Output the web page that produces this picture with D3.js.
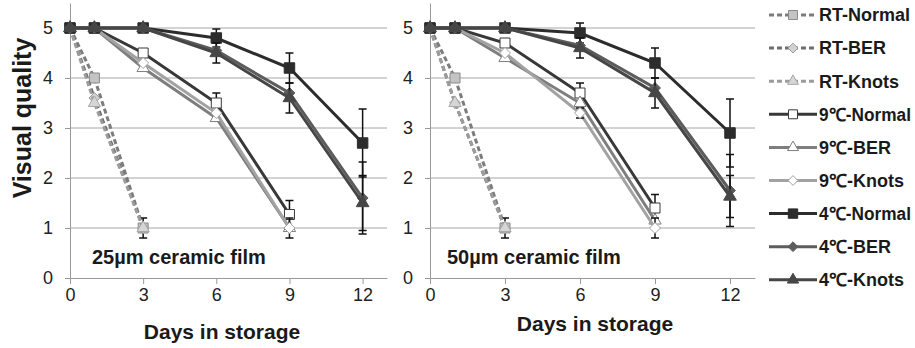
<!DOCTYPE html>
<html>
<head>
<meta charset="utf-8">
<script src="https://cdn.jsdelivr.net/npm/d3@7"></script>
<style>
  body { margin: 0; background: #fff; }
  svg { font-family: "Liberation Sans", Arial, sans-serif; }
  .tick text { fill: #222; }
</style>
</head>
<body>
<div id="chart"></div>
<script>
// Storage days (x values) and axis ticks
const days = [0, 1, 3, 6, 9, 12];
const xTicks = [0, 3, 6, 9, 12];
const yTicks = [0, 1, 2, 3, 4, 5];

const seriesNames = [
  "RT-Normal", "RT-BER", "RT-Knots",
  "9℃-Normal", "9℃-BER", "9℃-Knots",
  "4℃-Normal", "4℃-BER", "4℃-Knots",
];

// 25µm ceramic film: visual quality per series, one value per day (null = not measured)
const values25 = [
  [5, 4.0, 1, null, null, null],
  [5, 3.6, 1, null, null, null],
  [5, 3.5, 1, null, null, null],
  [5, 5, 4.5, 3.5, 1.27, null],
  [5, 5, 4.2, 3.2, 1.0, null],
  [5, 5, 4.3, 3.3, 1.0, null],
  [5, 5, 5, 4.8, 4.2, 2.7],
  [5, 5, 5, 4.55, 3.7, 1.6],
  [5, 5, 5, 4.5, 3.6, 1.5],
];
// standard errors (null = no bar drawn)
const errors25 = [
  [null, null, 0.2, null, null, null],
  [null, null, null, null, null, null],
  [null, null, null, null, null, null],
  [null, null, null, 0.2, 0.28, null],
  [null, null, null, null, null, null],
  [null, null, null, null, 0.2, null],
  [null, null, null, 0.18, 0.3, 0.68],
  [null, null, null, null, null, 0.72],
  [null, null, null, 0.2, 0.3, 0.55],
];

// 50µm ceramic film
const values50 = [
  [5, 4.0, 1, null, null, null],
  [5, 3.5, 1, null, null, null],
  [5, 3.5, 1, null, null, null],
  [5, 5, 4.7, 3.7, 1.4, null],
  [5, 5, 4.4, 3.5, 1.15, null],
  [5, 5, 4.5, 3.3, 1.0, null],
  [5, 5, 5, 4.9, 4.3, 2.9],
  [5, 5, 5, 4.65, 3.8, 1.75],
  [5, 5, 5, 4.6, 3.7, 1.63],
];
const errors50 = [
  [null, null, 0.2, null, null, null],
  [null, null, null, null, null, null],
  [null, null, null, null, null, null],
  [null, null, null, 0.2, 0.27, null],
  [null, null, null, null, null, null],
  [null, null, null, 0.1, 0.2, null],
  [null, null, null, 0.2, 0.3, 0.68],
  [null, null, null, null, null, 0.72],
  [null, null, null, 0.2, 0.3, 0.42],
];

// Diamond drawn as a square turned 45 degrees (d3's diamond is too tall)
const symbolRhomb = {
  draw(context, size) {
    const r = Math.sqrt(size / 2);
    context.moveTo(0, -r);
    context.lineTo(r, 0);
    context.lineTo(0, r);
    context.lineTo(-r, 0);
    context.closePath();
  }
};

// Look of each series (line colour, dash, marker)
const seriesStyle = [
  { color: "#7c7c7c", dash: "5,3", symbol: d3.symbolSquare, size: 100, fill: "#c4c4c4", stroke: "#8a8a8a" },
  { color: "#6e6e6e", dash: "5,3", symbol: symbolRhomb, size: 60, fill: "#d2d2d2", stroke: "#9a9a9a" },
  { color: "#9c9c9c", dash: "5,3", symbol: d3.symbolTriangle, size: 65, fill: "#d6d6d6", stroke: "#a8a8a8" },
  { color: "#383838", dash: null, symbol: d3.symbolSquare, size: 100, fill: "#fff", stroke: "#383838" },
  { color: "#7e7e7e", dash: null, symbol: d3.symbolTriangle, size: 65, fill: "#fff", stroke: "#7e7e7e" },
  { color: "#a2a2a2", dash: null, symbol: symbolRhomb, size: 60, fill: "#fff", stroke: "#a2a2a2" },
  { color: "#2c2c2c", dash: null, symbol: d3.symbolSquare, size: 110, fill: "#2c2c2c", stroke: "#2c2c2c" },
  { color: "#5c5c5c", dash: null, symbol: symbolRhomb, size: 60, fill: "#5c5c5c", stroke: "#5c5c5c" },
  { color: "#464646", dash: null, symbol: d3.symbolTriangle, size: 70, fill: "#464646", stroke: "#464646" },
];

const width = 915, height = 348;
const svg = d3.select("#chart").append("svg")
  .attr("width", width)
  .attr("height", height);

const y = d3.scaleLinear().domain([0, 5.5]).range([278, 3]);

const panels = [
  { values: values25, errors: errors25, x0: 70, x1: 387, label: "25µm ceramic film", labelX: 92, titleX: 222, titleY: 339 },
  { values: values50, errors: errors50, x0: 430, x1: 755, label: "50µm ceramic film", labelX: 447, titleX: 595, titleY: 331 },
];

panels.forEach(function (p) {
  const x = d3.scaleLinear().domain([0, 13]).range([p.x0, p.x1]);
  const g = svg.append("g");

  // Grid lines
  g.selectAll("line.grid")
    .data(yTicks.filter(d => d > 0))
    .enter().append("line")
    .attr("class", "grid")
    .attr("x1", p.x0).attr("x2", p.x1)
    .attr("y1", d => y(d)).attr("y2", d => y(d))
    .attr("stroke", "#a6a6a6").attr("stroke-width", 1);

  // Y axis
  const yAxis = g.append("g")
    .attr("transform", "translate(" + p.x0 + ",0)")
    .call(d3.axisLeft(y).tickValues(yTicks).tickFormat(d3.format("d"))
      .tickSize(5).tickPadding(12).tickSizeOuter(0));
  yAxis.selectAll("text").style("font-size", "18px");

  // X axis
  const xAxis = g.append("g")
    .attr("transform", "translate(0," + y(0) + ")")
    .call(d3.axisBottom(x).tickValues(xTicks).tickSize(6).tickPadding(4).tickSizeOuter(0));
  xAxis.selectAll("text").style("font-size", "18px");

  [yAxis, xAxis].forEach(function (a) {
    a.select(".domain").attr("stroke", "#999");
    a.selectAll(".tick line").attr("stroke", "#999");
  });

  // X axis title
  g.append("text")
    .attr("x", p.titleX).attr("y", p.titleY)
    .attr("text-anchor", "middle")
    .style("font-size", "21px").style("font-weight", "bold")
    .attr("fill", "#1a1a1a")
    .text("Days in storage");

  // Film label
  g.append("text")
    .attr("x", p.labelX).attr("y", 264)
    .style("font-size", "20px").style("font-weight", "bold")
    .attr("fill", "#1a1a1a")
    .text(p.label);

  // Series lines and markers
  p.values.forEach(function (vals, i) {
    const st = seriesStyle[i];
    const pts = days.map((d, j) => ({ day: d, v: vals[j], e: p.errors[i][j] }))
      .filter(d => d.v !== null);

    g.append("path")
      .datum(pts)
      .attr("fill", "none")
      .attr("stroke", st.color)
      .attr("stroke-width", 3)
      .attr("stroke-dasharray", st.dash)
      .attr("d", d3.line().x(d => x(d.day)).y(d => y(d.v)));

    // Error bars
    const eb = g.selectAll(null)
      .data(pts.filter(d => d.e !== null))
      .enter().append("g")
      .attr("stroke", "#111").attr("stroke-width", 1.5);
    eb.append("line")
      .attr("x1", d => x(d.day)).attr("x2", d => x(d.day))
      .attr("y1", d => y(d.v + d.e)).attr("y2", d => y(d.v - d.e));
    eb.append("line")
      .attr("x1", d => x(d.day) - 4).attr("x2", d => x(d.day) + 4)
      .attr("y1", d => y(d.v + d.e)).attr("y2", d => y(d.v + d.e));
    eb.append("line")
      .attr("x1", d => x(d.day) - 4).attr("x2", d => x(d.day) + 4)
      .attr("y1", d => y(d.v - d.e)).attr("y2", d => y(d.v - d.e));

    g.selectAll(null)
      .data(pts)
      .enter().append("path")
      .attr("transform", d => "translate(" + x(d.day) + "," + y(d.v) + ")")
      .attr("d", d3.symbol().type(st.symbol).size(st.size))
      .attr("fill", st.fill)
      .attr("stroke", st.stroke)
      .attr("stroke-width", 1);
  });
});

// Y axis title
svg.append("text")
  .attr("transform", "translate(31,118) rotate(-90)")
  .attr("text-anchor", "middle")
  .style("font-size", "25px").style("font-weight", "bold")
  .attr("fill", "#1a1a1a")
  .text("Visual quality");

// Legend
const legend = svg.append("g");
seriesNames.forEach(function (name, i) {
  const st = seriesStyle[i];
  const ly = 15 + i * 33.1;
  legend.append("line")
    .attr("x1", 769).attr("x2", 817)
    .attr("y1", ly).attr("y2", ly)
    .attr("stroke", st.color).attr("stroke-width", 3)
    .attr("stroke-dasharray", st.dash);
  legend.append("path")
    .attr("transform", "translate(793," + ly + ")")
    .attr("d", d3.symbol().type(st.symbol).size(st.size * 0.8))
    .attr("fill", st.fill).attr("stroke", st.stroke).attr("stroke-width", 1);
  const t = legend.append("text")
    .attr("x", 819).attr("y", ly)
    .attr("dy", "0.35em")
    .style("font-size", "18px").style("font-weight", "bold")
    .attr("fill", "#1a1a1a")
    .text(name);
  // keep long labels inside the page
  if (t.node().getComputedTextLength() > 92) {
    t.attr("textLength", 92).attr("lengthAdjust", "spacingAndGlyphs");
  }
});
</script>
</body>
</html>
